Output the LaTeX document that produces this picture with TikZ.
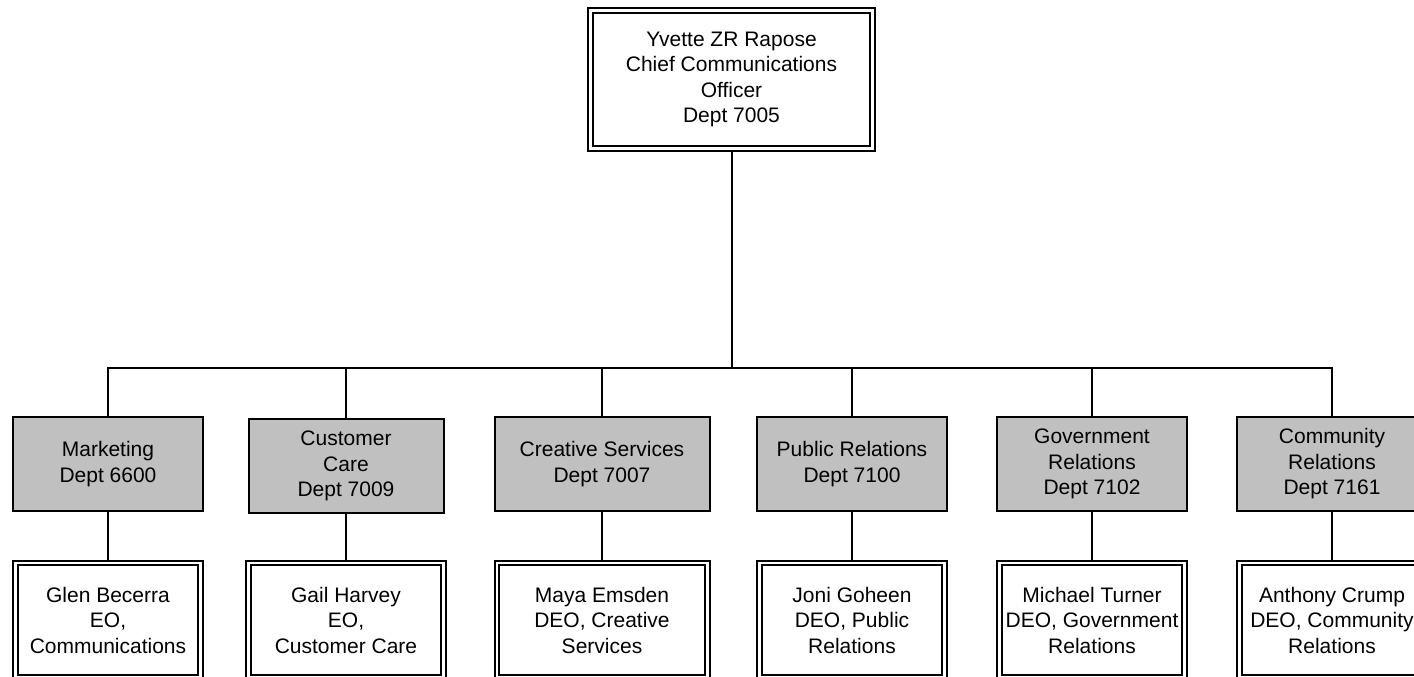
\documentclass[tikz,border=0pt]{standalone}
\usepackage{fontspec}
\setmainfont{Liberation Sans}
\usetikzlibrary{shapes,arrows}
\definecolor{deptgray}{RGB}{192,192,192}
\tikzstyle{head} = [draw, double, double distance=2.6pt, line width=2pt, fill=white, text centered, align=center, outer sep=3.3pt]
\tikzstyle{dept} = [draw, line width=2pt, fill=deptgray, text centered, align=center, minimum height=94pt]
\tikzstyle{staff} = [head, minimum height=114pt]
\tikzset{
  line/.style ={draw, line width=2pt}
}

\begin{document}
\begin{tikzpicture}[x=1pt, y=-1pt, every node/.style={font=\fontsize{21}{25.5}\selectfont}]
 \clip (0,0) rectangle (1414,677);
 \node[head, minimum width=282.4pt, minimum height=138.4pt] (ceo) at (731.5,79.5)
   {Yvette ZR Rapose\\Chief Communications\\Officer\\Dept 7005};
 \coordinate (bus) at (731.5,368);

 \node[dept, minimum width=190pt] (marketing) at (108,464) {Marketing\\Dept 6600};
 \node[dept, minimum width=195pt] (custcare) at (346,466) {Customer\\Care\\Dept 7009};
 \node[dept, minimum width=215pt] (creative) at (602,464) {Creative Services\\Dept 7007};
 \node[dept, minimum width=190pt] (pubrel) at (852,464) {Public Relations\\Dept 7100};
 \node[dept, minimum width=190pt] (govrel) at (1092,464) {Government\\Relations\\Dept 7102};
 \node[dept, minimum width=190pt] (commrel) at (1332,464) {Community\\Relations\\Dept 7161};

 \node[staff, minimum width=185.4pt] (becerra) at (108,620) {Glen Becerra\\EO,\\Communications};
 \node[staff, minimum width=195.4pt] (harvey) at (346,620) {Gail Harvey\\EO,\\Customer Care};
 \node[staff, minimum width=210.4pt] (emsden) at (602,620) {Maya Emsden\\DEO, Creative\\Services};
 \node[staff, minimum width=185.4pt] (goheen) at (852,620) {Joni Goheen\\DEO, Public\\Relations};
 \node[staff, minimum width=185.4pt] (turner) at (1092,620) {Michael Turner\\DEO, Government\\Relations};
 \node[staff, minimum width=185.4pt] (crump) at (1332,620) {Anthony Crump\\DEO, Community\\Relations};

 \begin{scope}[every path/.style=line]
   \path (ceo.south) -- (bus);
   \path (bus) -| (marketing.north);
   \path (bus) -| (custcare.north);
   \path (bus) -| (creative.north);
   \path (bus) -| (pubrel.north);
   \path (bus) -| (govrel.north);
   \path (bus) -| (commrel.north);
   \path (marketing) -- (becerra);
   \path (custcare) -- (harvey);
   \path (creative) -- (emsden);
   \path (pubrel) -- (goheen);
   \path (govrel) -- (turner);
   \path (commrel) -- (crump);
 \end{scope}

\end{tikzpicture}
\end{document}
